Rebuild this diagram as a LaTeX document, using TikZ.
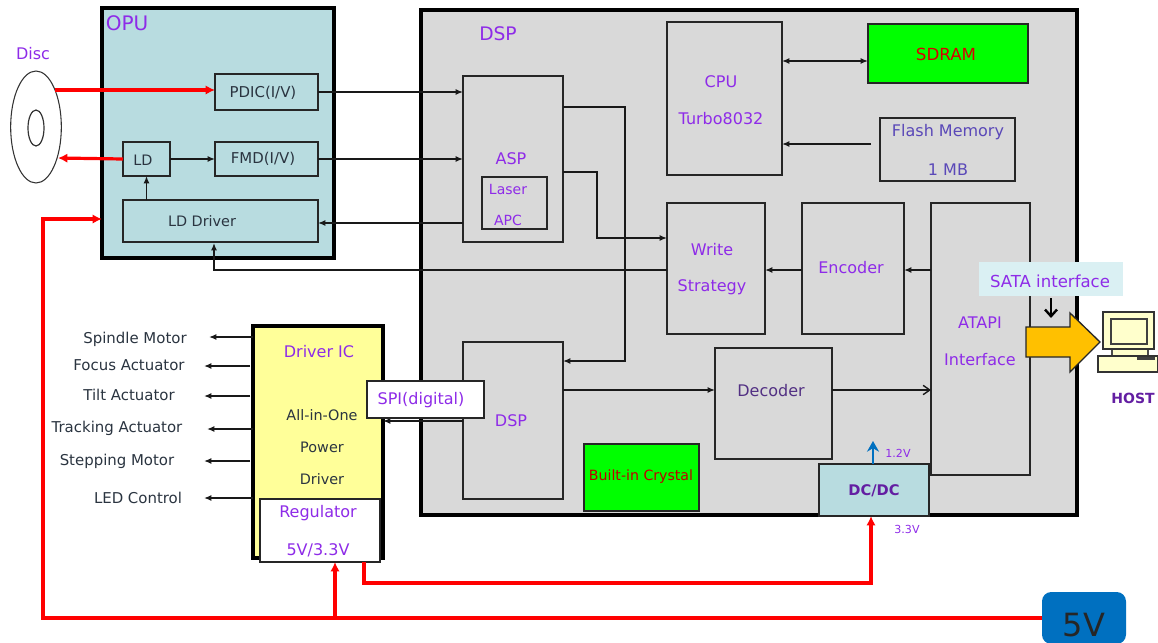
\documentclass[tikz,border=0pt]{standalone}
\usepackage{fontspec}
\setmainfont{DejaVu Sans}
\usetikzlibrary{arrows.meta,shapes.geometric}
\definecolor{txtp}{HTML}{8E2BE8}
\definecolor{txtk}{HTML}{2A3440}
\definecolor{txtf}{HTML}{5A48B8}
\definecolor{opuc}{HTML}{B8DCE0}
\definecolor{dspc}{HTML}{D9D9D9}
\definecolor{yel}{HTML}{FFFF99}
\definecolor{grn}{HTML}{00FF00}
\definecolor{sata}{HTML}{DAF0F3}
\definecolor{blu}{HTML}{0070C0}
\definecolor{gold}{HTML}{FFC000}
\definecolor{redl}{HTML}{FF0000}
\definecolor{compy}{HTML}{FFFFCC}
\tikzset{
 x=0.75pt,y=-0.75pt,
 boxn/.style={draw=black!85,line width=1.2pt,inner sep=0pt,outer sep=0pt},
 bigbox/.style={draw=black,line width=2.4pt,inner sep=0pt,outer sep=0pt},
 lab/.style={font=\fontsize{12pt}{11pt}\selectfont,text=txtp,inner sep=0pt,align=center},
 labk/.style={font=\fontsize{11.2pt}{11pt}\selectfont,text=txtk,inner sep=0pt,align=center},
 lnk/.style={draw=black!90,line width=1.05pt,-{Latex[length=5.5pt,width=4.5pt]}},
 lnkr/.style={draw=redl,line width=2.4pt,-{Latex[length=7pt,width=7pt]}},
}
\newcommand{\bx}[7]{\node[#6,minimum width={((#4)-(#2))*0.75pt},minimum height={((#5)-(#3))*0.75pt}] (#1) at ({((#2)+(#4))/2},{((#3)+(#5))/2}) {#7};}
\newcommand{\tx}[5]{\node[#4] (#1) at (#2,#3) {#5};}
\begin{document}
\begin{tikzpicture}
\useasboundingbox (0,0) rectangle (1158,643);
% big containers
\bx{opu}{102}{8}{334}{258}{bigbox,fill=opuc}{}
\bx{dsp}{421}{10}{1077}{515}{bigbox,fill=dspc}{}
\tx{opul}{127}{23}{lab,font=\fontsize{15pt}{13pt}\selectfont}{OPU}
\tx{dspl}{498}{34}{lab,font=\fontsize{14pt}{13pt}\selectfont}{DSP}
% disc
\node[ellipse,draw=black!80,line width=0.8pt,fill=white,minimum width=38pt,minimum height=84pt,inner sep=0pt] (disc) at (36,127) {};
\node[ellipse,draw=black!80,line width=0.9pt,fill=white,minimum width=12pt,minimum height=27pt,inner sep=0pt] (hole) at (36,128) {};
\tx{discl}{33}{54}{lab}{Disc}
% OPU boxes
\bx{pdic}{215}{74}{318}{110}{boxn}{}
\tx{pdicl}{263}{93}{labk}{PDIC(I/V)}
\bx{fmd}{215}{142}{318}{176}{boxn}{}
\tx{fmdl}{263}{159}{labk}{FMD(I/V)}
\bx{ld}{123}{142}{170}{176}{boxn}{}
\tx{ldl}{143}{160}{labk,font=\fontsize{10.8pt}{10pt}\selectfont}{LD}
\bx{ldd}{123}{200}{318}{242}{boxn}{}
\tx{lddl}{202}{221}{labk,font=\fontsize{10.8pt}{10pt}\selectfont}{LD Driver}
% DSP boxes
\bx{asp}{463}{76}{563}{242}{boxn}{}
\tx{aspl}{511}{159}{lab}{ASP}
\bx{apc}{482}{177}{547}{229}{boxn}{}
\tx{apcl}{508}{205}{lab,font=\fontsize{10.5pt}{10pt}\selectfont}{Laser\\[13pt]APC}
\bx{cpu}{667}{22}{782}{175}{boxn}{}
\tx{cpul}{721}{100}{lab}{CPU\\[16.5pt]Turbo8032}
\bx{sdram}{868}{24}{1028}{83}{boxn,fill=grn}{}
\tx{sdraml}{946}{54}{labk,text=red!85!black,font=\fontsize{12.5pt}{11pt}\selectfont}{SDRAM}
\bx{flash}{880}{118}{1015}{181}{boxn}{}
\tx{flashl}{948}{150}{lab,text=txtf}{Flash Memory\\[16.5pt]1 MB}
\bx{ws}{667}{203}{765}{334}{boxn}{}
\tx{wsl}{712}{269}{lab}{Write\\[16.5pt]Strategy}
\bx{enc}{802}{203}{904}{334}{boxn}{}
\tx{encl}{851}{268}{lab}{Encoder}
\bx{ata}{931}{203}{1030}{475}{boxn}{}
\tx{atal}{980}{341}{lab}{ATAPI\\[16.5pt]Interface}
\bx{dspi}{463}{342}{563}{499}{boxn}{}
\tx{dspil}{511}{421}{lab}{DSP}
\bx{dec}{715}{348}{832}{459}{boxn}{}
\tx{decl}{771}{391}{lab,text=txtk!60!txtp}{Decoder}
\bx{xtal}{584}{444}{699}{511}{boxn,fill=grn}{}
\tx{xtall}{641}{477}{labk,text=red!75!black,font=\fontsize{10.6pt}{9pt}\selectfont}{Built-in Crystal}
\bx{dcdc}{819}{464}{929}{516}{boxn,fill=opuc}{}
\tx{dcdcl}{874}{491}{lab,font=\fontsize{11pt}{11pt}\bfseries\selectfont,text=txtp!70!black}{DC/DC}
% driver IC
\bx{drv}{253}{326}{383}{558}{bigbox,fill=yel}{}
\tx{drvl}{319}{352}{lab}{Driver IC}
\tx{aio}{322}{447}{labk,font=\fontsize{10.8pt}{11pt}\selectfont}{All-in-One\\[13pt]Power\\[13pt]Driver}
\bx{reg}{260}{499}{380}{562}{boxn,fill=white}{}
\tx{regl}{318}{531}{lab}{Regulator\\[16pt]5V/3.3V}
% 5V
\node[fill=blu,rounded corners=7pt,inner sep=0pt,minimum width={84*0.75pt},minimum height={52*0.75pt}] (five) at (1084,618) {};
\tx{fivel}{1084}{625}{labk,font=\fontsize{24pt}{24pt}\selectfont,text=black!85}{5V}
% black connectors
\draw[lnk] (pdic.east) -- (asp.west |- pdic.east);
\draw[lnk] (fmd.east) -- (asp.west |- fmd.east);
\draw[lnk] (ld.east) -- (fmd.west);
\draw[lnk] (ldd.north -| ld) -- (ld.south);
\draw[lnk] (asp.west |- 0,223) -- (ldd.east |- 0,223);
\draw[lnk] (ws.west |- 0,270) -- (214,270) -- (214,243);
\draw[lnk] (asp.east |- 0,107) -- (625,107) -- (625,361) -- (dspi.east |- 0,361);
\draw[lnk] (asp.east |- 0,172) -- (597,172) -- (597,238) -- (ws.west |- 0,238);
\draw[draw=black!90,line width=1.05pt,{Latex[length=5.5pt,width=4.5pt]}-{Latex[length=5.5pt,width=4.5pt]}] (cpu.east |- 0,61) -- (sdram.west |- 0,61);
\draw[lnk] (flash.west |- 0,144) ++(-9,0) -- (cpu.east |- 0,144);
\draw[lnk] (enc.west |- 0,270) -- (ws.east |- 0,270);
\draw[lnk] (ata.west |- 0,270) -- (enc.east |- 0,270);
\draw[lnk] (dspi.east |- 0,390) -- (dec.west |- 0,390);
\draw[draw=black!90,line width=1.05pt,-{Straight Barb[length=5pt,width=7pt]}] (dec.east |- 0,390) -- (ata.west |- 0,390);
\draw[lnk] (dspi.west |- 0,421) -- (drv.east |- 0,421);
% SPI above the line
\bx{spi}{367}{381}{484}{418}{boxn,fill=white}{}
\tx{spil}{421}{400}{lab}{SPI(digital)}
% motor outputs
\tx{m1}{135}{339}{labk}{Spindle Motor}
\tx{m2}{129}{365}{labk}{Focus Actuator}
\tx{m3}{129}{395}{labk}{Tilt Actuator}
\tx{m4}{117}{428}{labk}{Tracking Actuator}
\tx{m5}{117}{461}{labk}{Stepping Motor}
\tx{m6}{138}{498}{labk}{LED Control}
\coordinate (e1) at (209,337);\coordinate (e2) at (204,366);\coordinate (e3) at (204,396);
\coordinate (e4) at (207,429);\coordinate (e5) at (204,461);\coordinate (e6) at (204,498);
\draw[lnk] (drv.west |- e1) -- (e1);
\draw[lnk] (drv.west |- e2) ++(-3,0) -- (e2);
\draw[lnk] (drv.west |- e3) ++(-3,0) -- (e3);
\draw[lnk] (drv.west |- e4) -- (e4);
\draw[lnk] (drv.west |- e5) ++(-3,0) -- (e5);
\draw[lnk] (drv.west |- e6) -- (e6);
% red connectors
\coordinate (dsrc) at (55,90);
\coordinate (ddst) at (58,158);
\draw[lnkr] (dsrc) -- (pdic.west |- dsrc);
\draw[lnkr] (ld.west) -- (ddst);
\draw[lnkr] (five.west) -- (43,618) -- (43,219) -- (opu.west |- 0,219);
\draw[lnkr] (335,618) -- (reg.south -| 335,0);
\draw[lnkr] (364,562) -- (364,583) -- (871,583) -- (dcdc.south -| 871,0);
% voltage
\coordinate (v12) at (873,441);
\draw[draw=blu,line width=2.2pt,-{Stealth[length=8pt,width=9pt]}] (dcdc.north -| v12) -- (v12);
\tx{v1}{898}{453}{lab,font=\fontsize{8.3pt}{7pt}\selectfont}{1.2V}
\tx{v2}{907}{529}{lab,font=\fontsize{8.3pt}{7pt}\selectfont}{3.3V}
% SATA and host
\draw[fill=gold,draw=black!85,line width=1pt] (1026,327) -- (1070,327) -- (1070,313) -- (1100,342) -- (1070,372) -- (1070,357) -- (1026,357) -- cycle;
\bx{satab}{979}{262}{1123}{296}{fill=sata,inner sep=0pt,outer sep=0pt}{}
\tx{satal}{1050}{281}{lab,font=\fontsize{12.4pt}{11pt}\selectfont}{SATA interface}
\coordinate (sa) at (1051,318);
\draw[draw=black,line width=1.8pt,-{Straight Barb[length=5pt,width=9pt]}] (satab.south -| sa) ++(0,2) -- (sa);
% computer
\draw[fill=compy,draw=black!70,line width=0.8pt] (1112,345) rectangle (1148,356);
\draw[fill=compy,draw=black!80,line width=0.9pt] (1098,356) rectangle (1158,372);
\draw[fill=black!75,draw=none] (1137,357) rectangle (1155,360);
\bx{mon}{1103}{312}{1154}{349}{draw=black!80,fill=compy,line width=0.9pt,inner sep=0pt,outer sep=0pt}{}
\bx{scr}{1111}{319}{1147}{344}{draw=black!75,fill=compy,line width=1.2pt,inner sep=0pt,outer sep=0pt}{}
\tx{hostl}{1133}{398}{lab,font=\fontsize{10.5pt}{11pt}\bfseries\selectfont,text=txtp!70!black}{HOST}
\end{tikzpicture}
\end{document}
